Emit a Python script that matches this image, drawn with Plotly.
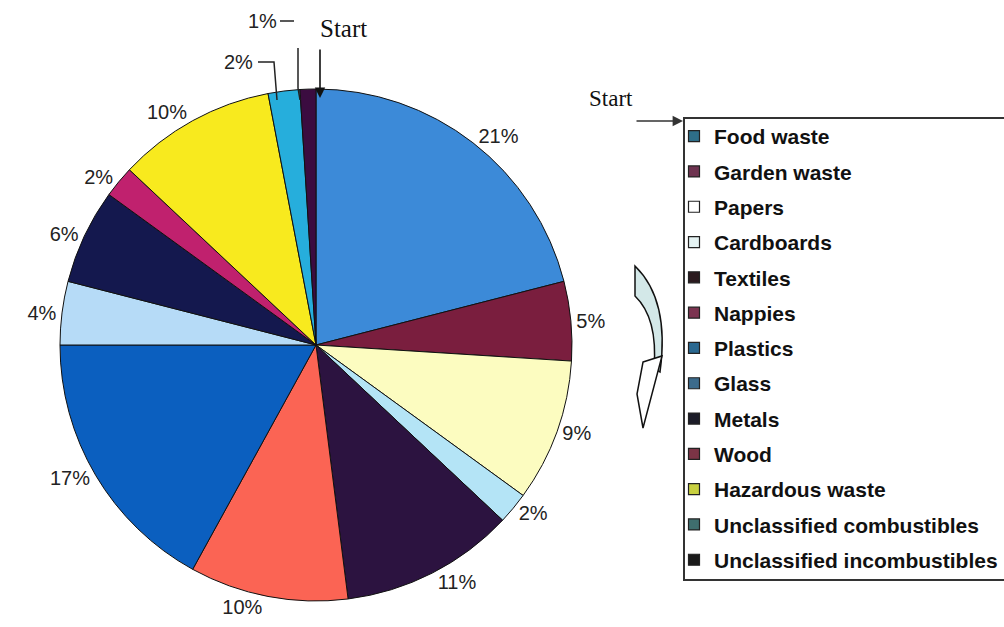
import plotly.graph_objects as go

# ---- data ----
categories = ["Food waste", "Garden waste", "Papers", "Cardboards", "Textiles",
              "Nappies", "Plastics", "Glass", "Metals", "Wood",
              "Hazardous waste", "Unclassified combustibles",
              "Unclassified incombustibles"]
values = [21, 5, 9, 2, 11, 10, 17, 4, 6, 2, 10, 2, 1]

slice_colors = ["#3c8ad8", "#7a1e3e", "#fcfcc0", "#b4e4f6", "#2c1340",
                "#fb6454", "#0b5fbf", "#b6dbf7", "#14184e", "#c0216e",
                "#f8ea1e", "#26aedc", "#3b0c40"]
legend_colors = ["#2e6e88", "#6e3350", "#ffffff", "#e4f2f2", "#2b1a1e",
                 "#7b3350", "#2a6890", "#3c6b8c", "#1c1c28", "#7c3446",
                 "#c8d040", "#3f6e6e", "#1a1a1a"]

W, H = 1004, 627


def px(x):
    return x / W


def py(y):
    return 1 - y / H


# labels of the two smallest top slices are drawn separately with leader lines
texttemplates = ["%{value}%"] * len(values)
texttemplates[-1] = ""
texttemplates[-2] = ""

fig = go.Figure()

cx, cy, r = 316, 345, 256
fig.add_trace(go.Pie(
    labels=categories,
    values=values,
    sort=False,
    direction="clockwise",
    rotation=0,
    marker=dict(colors=slice_colors, line=dict(color="#111111", width=1)),
    texttemplate=texttemplates,
    textposition="outside",
    outsidetextfont=dict(family="Liberation Sans", size=20, color="#222222"),
    showlegend=False,
    hoverinfo="label+value",
    domain=dict(x=[px(cx - r), px(cx + r)], y=[py(cy + r), py(cy - r)]),
))

# legend entries
for cat, col in zip(categories, legend_colors):
    fig.add_trace(go.Scatter(
        x=[None], y=[None], mode="markers", name=cat, legendgroup=cat,
        marker=dict(symbol="square", size=11, color=col,
                    line=dict(color="#222222", width=1.2)),
        showlegend=True,
    ))

shapes = [
    # legend frame
    dict(type="rect", xref="paper", yref="paper",
         x0=px(684), x1=px(1012), y0=py(580), y1=py(118),
         line=dict(color="#333333", width=2), fillcolor="rgba(0,0,0,0)"),
    # leader for the 1% slice
    dict(type="line", xref="paper", yref="paper",
         x0=px(280), x1=px(294), y0=py(21), y1=py(21),
         line=dict(color="#222222", width=1.5)),
    dict(type="path", xref="paper", yref="paper",
         path=f"M {px(298)},{py(48)} L {px(298)},{py(88)} L {px(300)},{py(100)}",
         line=dict(color="#222222", width=1.5)),
    # leader for the 2% slice
    dict(type="path", xref="paper", yref="paper",
         path=f"M {px(258)},{py(62)} L {px(274)},{py(62)} L {px(277)},{py(100)}",
         line=dict(color="#222222", width=1.5)),
    # curved direction arrow body
    dict(type="path", xref="paper", yref="paper",
         path=(f"M {px(635)},{py(266)} Q {px(670)},{py(300)} {px(660)},{py(372)} "
               f"L {px(654)},{py(368)} Q {px(658)},{py(318)} {px(635)},{py(296)} Z"),
         line=dict(color="#111111", width=1.5), fillcolor="#d3e8e8"),
    # curved arrow head
    dict(type="path", xref="paper", yref="paper",
         path=(f"M {px(643)},{py(362)} L {px(662)},{py(356)} "
               f"L {px(643)},{py(428)} L {px(637)},{py(394)} Z"),
         line=dict(color="#111111", width=1.5), fillcolor="#ffffff"),
]

label_font = dict(family="Liberation Sans", size=20, color="#222222")
annotations = [
    dict(text=f"{values[-1]}%", x=px(262), y=py(21), xref="paper", yref="paper",
         xanchor="center", yanchor="middle", showarrow=False, font=label_font),
    dict(text=f"{values[-2]}%", x=px(238), y=py(62), xref="paper", yref="paper",
         xanchor="center", yanchor="middle", showarrow=False, font=label_font),
    dict(text="Start", x=px(343), y=py(28), xref="paper", yref="paper",
         xanchor="center", yanchor="middle", showarrow=False,
         font=dict(family="Liberation Serif", size=25, color="#111111")),
    dict(text="", x=px(320), y=py(98), xref="paper", yref="paper",
         showarrow=True, ax=0, ay=-50, arrowhead=2, arrowsize=1.3,
         arrowwidth=1.6, arrowcolor="#111111"),
    dict(text="Start", x=px(611), y=py(98), xref="paper", yref="paper",
         xanchor="center", yanchor="middle", showarrow=False,
         font=dict(family="Liberation Serif", size=23, color="#111111")),
    dict(text="", x=px(683), y=py(121), xref="paper", yref="paper",
         showarrow=True, ax=-48, ay=0, arrowhead=2, arrowsize=1.3,
         arrowwidth=1.6, arrowcolor="#333333"),
]

fig.update_layout(
    width=W, height=H,
    margin=dict(l=0, r=0, t=0, b=0),
    paper_bgcolor="#ffffff", plot_bgcolor="#ffffff",
    xaxis=dict(visible=False), yaxis=dict(visible=False),
    showlegend=True,
    legend=dict(x=px(674), y=py(116), xanchor="left", yanchor="top",
                font=dict(family="Liberation Sans", size=21, color="#111111",
                          weight="bold"),
                borderwidth=0, bgcolor="rgba(0,0,0,0)",
                traceorder="grouped", tracegroupgap=5, itemwidth=30),
    shapes=shapes,
    annotations=annotations,
)

fig.write_html("out.html",
               config={"displayModeBar": False},
               post_script="document.body.style.margin='0px';")
